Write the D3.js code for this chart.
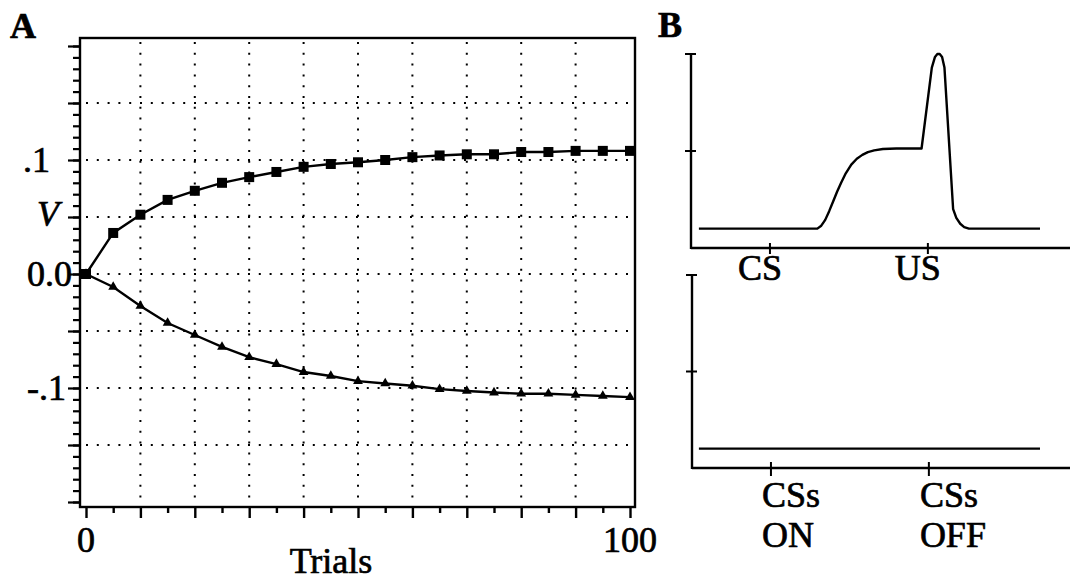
<!DOCTYPE html>
<html>
<head>
<meta charset="utf-8">
<script src="https://cdn.jsdelivr.net/npm/d3@7/dist/d3.min.js"></script>
<style>
  html, body { margin: 0; padding: 0; background: #fff; }
  svg text { font-family: "Liberation Serif", "DejaVu Serif", serif; fill: #000; stroke: #000; stroke-width: 0.7px; }
</style>
</head>
<body>
<svg id="fig" width="1070" height="581"></svg>
<script>
// ---- Panel A: associative strength V over trials ----
const trials = d3.range(0, 101, 5);
const vExcit = [0, 0.036, 0.052, 0.065, 0.073, 0.080, 0.085, 0.0895, 0.094, 0.0965, 0.098,
                0.100, 0.1025, 0.104, 0.105, 0.105, 0.107, 0.107, 0.108, 0.108, 0.108];
const vInhib = [0, -0.0114, -0.028, -0.043, -0.0535, -0.064, -0.073, -0.079, -0.086, -0.0895, -0.094,
                -0.096, -0.098, -0.101, -0.1026, -0.104, -0.105, -0.105, -0.106, -0.107, -0.108];
const yTickLabels = [{v: 0.1, t: ".1"}, {v: 0, t: "0.0"}, {v: -0.1, t: "-.1"}];
const xTickLabels = [{v: 0, t: "0"}, {v: 100, t: "100"}];
const gridX = d3.range(10, 100, 10);
const gridY = [0.15, 0.1, 0.05, 0, -0.05, -0.1, -0.15];

// ---- Panel B: response profiles over time in a trial ----
const traceTime = [1, 16, 16.5, 17, 17.5, 18, 18.5, 19, 19.6, 20.3, 21, 21.7, 22.4, 23.2, 24.3, 26, 29.2,
                   30.5, 30.9, 31.2, 31.5, 31.8, 32.1, 33.2, 33.6, 34.1, 34.6, 35.2, 44.2];
const traceVal  = [0.1, 0.1, 0.115, 0.145, 0.19, 0.24, 0.29, 0.335, 0.385, 0.43, 0.46, 0.48, 0.494, 0.503, 0.51, 0.513, 0.513,
                   0.93, 0.985, 1.0, 1.0, 0.985, 0.93, 0.2, 0.155, 0.125, 0.108, 0.1, 0.1];
const flatTime = [1, 44.2];
const flatVal = [0.1, 0.1];
const topMarks = [{t: 10, label: "CS"}, {t: 30, label: "US"}];
const botMarks = [{t: 10, lines: ["CSs", "ON"]}, {t: 30, lines: ["CSs", "OFF"]}];
const bTicks = [0.5, 1];

const svg = d3.select("#fig");
const FS = 36;

// ===== Panel A =====
const x = d3.scaleLinear().domain([0, 100]).range([86, 630]);
const y = d3.scaleLinear().domain([-0.2, 0.2]).range([502, 46]);
const frame = {l: 80, r: 635, t: 38, b: 507};

const gA = svg.append("g");

// dotted grid
const dot = "2,8.8";
gA.selectAll("line.gx").data(gridX).join("line")
  .attr("x1", d => x(d)).attr("x2", d => x(d))
  .attr("y1", frame.t + 4).attr("y2", frame.b)
  .attr("stroke", "#000").attr("stroke-width", 2).attr("stroke-dasharray", dot);
gA.selectAll("line.gy").data(gridY).join("line")
  .attr("x1", frame.l + 6).attr("x2", frame.r)
  .attr("y1", d => y(d)).attr("y2", d => y(d))
  .attr("stroke", "#000").attr("stroke-width", 2).attr("stroke-dasharray", dot);

// frame
gA.append("rect")
  .attr("x", frame.l).attr("y", frame.t)
  .attr("width", frame.r - frame.l).attr("height", frame.b - frame.t)
  .attr("fill", "none").attr("stroke", "#000").attr("stroke-width", 2.4);

// left ticks: minor every .01, major every .05
const minorY = d3.range(-20, 21).map(i => i / 100);
const majorY = d3.range(-4, 5).map(i => i * 0.05);
const axL1 = gA.append("g").attr("transform", `translate(${frame.l},0)`)
  .call(d3.axisLeft(y).tickValues(minorY).tickSize(7).tickFormat(""));
const axL2 = gA.append("g").attr("transform", `translate(${frame.l},0)`)
  .call(d3.axisLeft(y).tickValues(majorY).tickSize(12).tickFormat(""));
[axL1, axL2].forEach(a => {
  a.select(".domain").remove();
  a.selectAll(".tick line").attr("stroke", "#000").attr("stroke-width", 2.2);
});

// bottom ticks: major every 10, minor every 5
const axB1 = gA.append("g").attr("transform", `translate(0,${frame.b})`)
  .call(d3.axisBottom(x).tickValues(d3.range(5, 100, 10)).tickSize(6).tickFormat(""));
const axB2 = gA.append("g").attr("transform", `translate(0,${frame.b})`)
  .call(d3.axisBottom(x).tickValues(d3.range(0, 101, 10)).tickSize(11).tickFormat(""));
[axB1, axB2].forEach(a => {
  a.select(".domain").remove();
  a.selectAll(".tick line").attr("stroke", "#000").attr("stroke-width", 2.4);
});

// tick labels
const yLabelRight = {".1": 50, "0.0": 72, "-.1": 66};
gA.selectAll("text.yl").data(yTickLabels).join("text")
  .attr("x", d => yLabelRight[d.t]).attr("y", d => y(d.v) + 12)
  .attr("text-anchor", "end").attr("font-size", FS).text(d => d.t);
gA.append("text").attr("x", 48).attr("y", y(0.05) + 9)
  .attr("text-anchor", "middle").attr("font-size", FS).attr("font-style", "italic").text("V");
gA.selectAll("text.xl").data(xTickLabels).join("text")
  .attr("x", d => x(d.v)).attr("y", 552)
  .attr("text-anchor", "middle").attr("font-size", FS).text(d => d.t);
gA.append("text").attr("x", 331).attr("y", 573)
  .attr("text-anchor", "middle").attr("font-size", FS).text("Trials");
svg.append("text").attr("x", 10).attr("y", 38)
  .attr("font-size", FS).attr("font-weight", "bold").text("A");

// data lines and markers
const lineA = d3.line().x(d => x(d[0])).y(d => y(d[1]));
const excit = trials.map((t, i) => [t, vExcit[i]]);
const inhib = trials.map((t, i) => [t, vInhib[i]]);
gA.append("path").datum(inhib).attr("d", lineA)
  .attr("fill", "none").attr("stroke", "#000").attr("stroke-width", 2.4);
gA.append("path").datum(excit).attr("d", lineA)
  .attr("fill", "none").attr("stroke", "#000").attr("stroke-width", 2.4);
gA.selectAll("path.tri").data(inhib).join("path")
  .attr("d", d3.symbol().type(d3.symbolTriangle).size(42))
  .attr("transform", d => `translate(${x(d[0])},${y(d[1])})`).attr("fill", "#000");
gA.selectAll("rect.sq").data(excit).join("rect")
  .attr("x", d => x(d[0]) - 5).attr("y", d => y(d[1]) - 5)
  .attr("width", 10).attr("height", 10).attr("fill", "#000");

// ===== Panel B =====
const xb = d3.scaleLinear().domain([0, 48]).range([691, 1070]);
const ybTop = d3.scaleLinear().domain([0, 1]).range([248, 54]);
const ybBot = d3.scaleLinear().domain([0, 1]).range([468, 275]);

svg.append("text").attr("x", 658).attr("y", 37)
  .attr("font-size", FS).attr("font-weight", "bold").text("B");

function drawAxes(g, yb, ax) {
  const [y0, y1] = yb.range();
  g.append("line").attr("x1", ax).attr("x2", ax).attr("y1", y1).attr("y2", y0 + 1)
    .attr("stroke", "#000").attr("stroke-width", 2.4);
  g.append("line").attr("x1", ax).attr("x2", xb.range()[1]).attr("y1", y0).attr("y2", y0)
    .attr("stroke", "#000").attr("stroke-width", 2.4);
  g.selectAll("line.yt").data(bTicks).join("line")
    .attr("x1", ax - 6).attr("x2", ax + 5)
    .attr("y1", d => yb(d)).attr("y2", d => yb(d))
    .attr("stroke", "#000").attr("stroke-width", 2);
}

const gT = svg.append("g");
drawAxes(gT, ybTop, 691);
gT.selectAll("line.xt").data(topMarks).join("line")
  .attr("x1", d => xb(d.t)).attr("x2", d => xb(d.t))
  .attr("y1", 243).attr("y2", 254)
  .attr("stroke", "#000").attr("stroke-width", 2);
gT.selectAll("text.xl").data(topMarks).join("text")
  .attr("x", d => xb(d.t) - 10).attr("y", 280)
  .attr("text-anchor", "middle").attr("font-size", FS).text(d => d.label);
const trace = traceTime.map((t, i) => [t, traceVal[i]]);
gT.append("path").datum(trace)
  .attr("d", d3.line().x(d => xb(d[0])).y(d => ybTop(d[1])))
  .attr("fill", "none").attr("stroke", "#000").attr("stroke-width", 2.4)
  .attr("stroke-linejoin", "round");

const gBt = svg.append("g");
drawAxes(gBt, ybBot, 692);
gBt.selectAll("line.xt").data(botMarks).join("line")
  .attr("x1", d => xb(d.t) + 1).attr("x2", d => xb(d.t) + 1)
  .attr("y1", 462).attr("y2", 476)
  .attr("stroke", "#000").attr("stroke-width", 2);
botMarks.forEach(m => {
  m.lines.forEach((s, k) => {
    gBt.append("text").attr("x", xb(m.t) - 8).attr("y", 507 + k * 40)
      .attr("font-size", FS).text(s);
  });
});
const flat = flatTime.map((t, i) => [t, flatVal[i]]);
gBt.append("path").datum(flat)
  .attr("d", d3.line().x(d => xb(d[0])).y(d => ybBot(d[1])))
  .attr("fill", "none").attr("stroke", "#000").attr("stroke-width", 2.2);
</script>
</body>
</html>
